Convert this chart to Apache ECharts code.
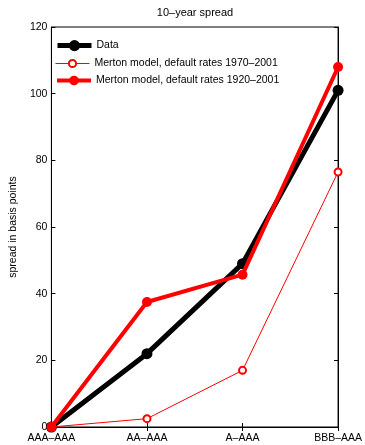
<!DOCTYPE html>
<html><head><meta charset="utf-8">
<script src="https://cdn.jsdelivr.net/npm/echarts@6/dist/echarts.min.js"></script>
<style>html,body{margin:0;padding:0;background:#fff}#c{width:365px;height:445px}</style>
</head><body><div id="c"></div>
<script>
var categories = ['AAA–AAA', 'AA–AAA', 'A–AAA', 'BBB–AAA'];
var dataValues = [0, 22, 49, 101];
var merton1970 = [0, 2.5, 17, 76.5];
var merton1920 = [0, 37.5, 45.7, 108];
var yTicks = [0, 20, 40, 60, 80, 100, 120];
var names = ['Data', 'Merton model, default rates 1970–2001', 'Merton model, default rates 1920–2001'];

var font = 'Liberation Sans, Arial, sans-serif';
var fs = 10.5;
var chart = echarts.init(document.getElementById('c'), null, {renderer: 'canvas'});
var tickStyle = {show: true, inside: true, length: 4, lineStyle: {color: '#000', width: 1}};
function leg(name, top, h, lw) {
  return {
    orient: 'vertical', left: 55, top: top, padding: 0, itemWidth: 34, itemHeight: h,
    textStyle: {fontFamily: font, fontSize: fs, color: '#000'},
    data: [{name: name, lineStyle: {width: lw}}]
  };
}
chart.setOption({
  animation: false,
  title: {text: '10–year spread', left: 190, top: 2, textAlign: 'center',
    textStyle: {fontFamily: font, fontSize: 11, fontWeight: 'normal', color: '#000'}},
  grid: {left: 44, right: 26, top: 27, bottom: 18, show: true, borderColor: '#000', borderWidth: 1, backgroundColor: 'transparent'},
  legend: [leg(names[0], 40, 14, 5), leg(names[1], 58, 9, 1), leg(names[2], 75, 12, 4)],
  xAxis: [{
    type: 'category', data: categories, boundaryGap: false,
    axisLine: {show: true, lineStyle: {color: '#000'}},
    axisTick: {show: true, inside: true, length: 4, alignWithLabel: true, lineStyle: {color: '#000'}},
    axisLabel: {fontFamily: font, fontSize: fs, color: '#000', margin: 6, interval: 0},
    splitLine: {show: false}
  }, {
    type: 'category', data: categories, boundaryGap: false, position: 'top',
    axisLine: {show: true, lineStyle: {color: '#000'}},
    axisTick: {show: true, inside: true, length: 4, lineStyle: {color: '#000'}},
    axisLabel: {show: false}, splitLine: {show: false}
  }],
  yAxis: [{
    type: 'value', min: 0, max: 120, interval: 20,
    name: 'spread in basis points', nameLocation: 'middle', nameGap: 27,
    nameTextStyle: {fontFamily: font, fontSize: fs, color: '#000'},
    axisLine: {show: true, lineStyle: {color: '#000'}},
    axisTick: tickStyle,
    axisLabel: {fontFamily: font, fontSize: fs, color: '#000', margin: 4,
      formatter: function (v) { return yTicks.indexOf(v) >= 0 ? String(v) : ''; }},
    splitLine: {show: false}
  }, {
    type: 'value', min: 0, max: 120, interval: 20, position: 'right',
    axisLine: {show: true, lineStyle: {color: '#000'}},
    axisTick: tickStyle, axisLabel: {show: false}, splitLine: {show: false}
  }],
  series: [{
    name: names[0], type: 'line', data: dataValues, z: 3,
    symbol: 'circle', symbolSize: 11, showSymbol: true,
    lineStyle: {color: '#000', width: 5}, itemStyle: {color: '#000', borderWidth: 0}
  }, {
    name: names[1], type: 'line', data: merton1970, z: 4,
    symbol: 'emptyCircle', symbolSize: 7,
    lineStyle: {color: '#ff0000', width: 1}, itemStyle: {color: '#ff0000', borderColor: '#ff0000', borderWidth: 1}
  }, {
    name: names[2], type: 'line', data: merton1920, z: 5,
    symbol: 'circle', symbolSize: 10,
    lineStyle: {color: '#ff0000', width: 4}, itemStyle: {color: '#ff0000', borderWidth: 0}
  }]
});
</script></body></html>
